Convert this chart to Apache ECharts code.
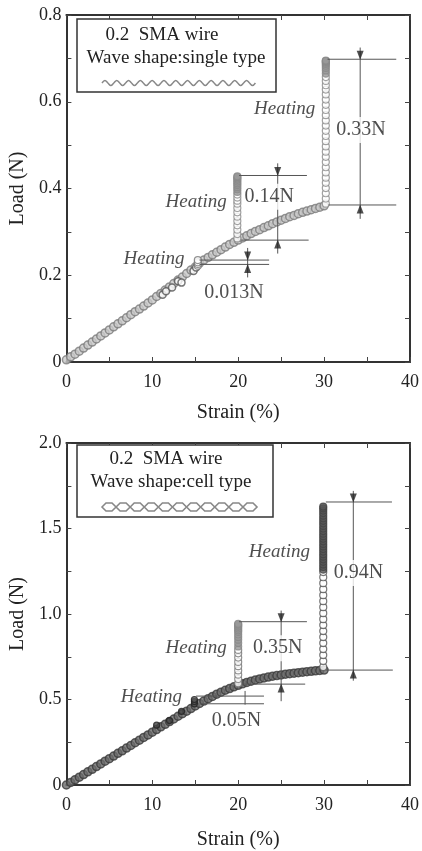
<!DOCTYPE html>
<html>
<head>
<meta charset="utf-8">
<script src="https://cdn.jsdelivr.net/npm/echarts@6/dist/echarts.min.js"></script>
<style>
  html, body { margin: 0; padding: 0; background: #fff; }
  #chart { width: 422px; height: 851px; }
</style>
</head>
<body>
<div id="chart"></div>
<script>
// 曲线横坐标 (%)
const strain = [0, 0.5, 1, 1.5, 2, 2.5, 3, 3.5, 4, 4.5, 5, 5.5, 6, 6.5, 7, 7.5, 8, 8.5, 9, 9.5,
  10, 10.5, 11, 11.5, 12, 12.5, 13, 13.5, 14, 14.5, 15, 15.5, 16, 16.5, 17, 17.5, 18, 18.5, 19, 19.5,
  20, 20.5, 21, 21.5, 22, 22.5, 23, 23.5, 24, 24.5, 25, 25.5, 26, 26.5, 27, 27.5, 28, 28.5, 29, 29.5, 30];

// single type 载荷 (N)
const loadSingle = [0.005, 0.012, 0.018, 0.025, 0.032, 0.039, 0.046, 0.053, 0.060, 0.067, 0.074, 0.081, 0.088, 0.095, 0.102, 0.109, 0.116, 0.122, 0.129, 0.136,
  0.143, 0.151, 0.158, 0.166, 0.173, 0.181, 0.189, 0.196, 0.204, 0.212, 0.219, 0.228, 0.235, 0.241, 0.247, 0.253, 0.259, 0.265, 0.271, 0.276,
  0.281, 0.286, 0.291, 0.296, 0.301, 0.305, 0.310, 0.314, 0.319, 0.323, 0.327, 0.331, 0.335, 0.338, 0.342, 0.345, 0.348, 0.351, 0.354, 0.357, 0.360];

// cell type 载荷 (N)
const loadCell = [0.000, 0.015, 0.030, 0.046, 0.061, 0.077, 0.092, 0.108, 0.123, 0.139, 0.154, 0.169, 0.185, 0.200, 0.216, 0.231, 0.247, 0.262, 0.278, 0.293,
  0.309, 0.324, 0.340, 0.355, 0.371, 0.386, 0.402, 0.417, 0.432, 0.447, 0.462, 0.477, 0.491, 0.505, 0.518, 0.531, 0.543, 0.554, 0.564, 0.574,
  0.583, 0.592, 0.600, 0.607, 0.614, 0.620, 0.626, 0.631, 0.636, 0.640, 0.644, 0.648, 0.651, 0.654, 0.657, 0.660, 0.663, 0.665, 0.668, 0.670, 0.672];

// 加热时的竖直段 [x, y...]
const heatSingle15 = [15.3, 0.222, 0.226, 0.230, 0.235];
const heatSingle20 = [19.9, 0.285, 0.295, 0.305, 0.315, 0.325, 0.335, 0.345, 0.355, 0.365, 0.372, 0.379, 0.386];
const heatSingle20Top = [19.9, 0.392, 0.398, 0.403, 0.408, 0.412, 0.416, 0.420, 0.423, 0.426, 0.428];
const heatSingle30 = [30.2, 0.365, 0.377, 0.389, 0.401, 0.413, 0.425, 0.437, 0.449, 0.461, 0.473, 0.485, 0.497, 0.509,
  0.521, 0.533, 0.545, 0.557, 0.569, 0.581, 0.593, 0.605, 0.617, 0.628, 0.638, 0.648, 0.657];
const heatSingle30Top = [30.2, 0.665, 0.672, 0.678, 0.683, 0.687, 0.690, 0.692, 0.694, 0.695];

const heatCell15 = [14.9, 0.475, 0.488, 0.500];
const heatCell20 = [20.0, 0.595, 0.620, 0.645, 0.670, 0.695, 0.720, 0.745, 0.770, 0.790];
const heatCell20Top = [20.0, 0.810, 0.830, 0.850, 0.865, 0.880, 0.895, 0.905, 0.915, 0.925, 0.932, 0.938, 0.943];
const heatCell30 = [29.9, 0.690, 0.725, 0.760, 0.795, 0.830, 0.865, 0.900, 0.935, 0.970, 1.005, 1.040, 1.075,
  1.110, 1.145, 1.180, 1.215, 1.245];
const heatCell30Top = [29.9, 1.260, 1.275, 1.290, 1.305, 1.320, 1.335, 1.350, 1.365, 1.380, 1.395, 1.410, 1.425,
  1.440, 1.455, 1.470, 1.485, 1.500, 1.515, 1.530, 1.545, 1.560, 1.575, 1.590, 1.605, 1.618, 1.628];

// 曲线旁的散点
const strayStrainSingle = [11.2, 11.6, 12.3, 13.0, 13.4, 14.8, 15.1];
const strayLoadSingle = [0.155, 0.163, 0.172, 0.186, 0.183, 0.210, 0.218];
const strayStrainCell = [10.5, 12.0, 13.4];
const strayLoadCell = [0.35, 0.377, 0.43];

// 尺寸标注线 [x1, y1, x2, y2]
const dimSingle = [
  [30.4, 0.698, 38.4, 0.698], [30.5, 0.362, 38.4, 0.362], [34.2, 0.725, 34.2, 0.33],
  [20.1, 0.430, 28.0, 0.430], [20.3, 0.281, 28.2, 0.281], [24.6, 0.458, 24.6, 0.25],
  [15.5, 0.235, 23.6, 0.235], [15.5, 0.225, 23.6, 0.225], [21.1, 0.263, 21.1, 0.195]
];
const dimCell = [
  [30.2, 1.655, 37.9, 1.655], [30.2, 0.672, 38.0, 0.672], [33.4, 1.72, 33.4, 0.61],
  [20.1, 0.955, 28.0, 0.955], [20.5, 0.590, 27.8, 0.590], [25.0, 1.02, 25.0, 0.49],
  [15.1, 0.520, 23.0, 0.520], [15.5, 0.475, 23.0, 0.475], [20.8, 0.55, 20.8, 0.47]
];
const arrowDownSingle = [[34.2, 0.698], [24.6, 0.430], [21.1, 0.235]];
const arrowUpSingle = [[34.2, 0.362], [24.6, 0.281], [21.1, 0.225]];
const arrowDownCell = [[33.4, 1.655], [25.0, 0.955]];
const arrowUpCell = [[33.4, 0.672], [25.0, 0.590]];

// 数值文字 [文字, x, y]
const valueSingle = [['0.33N', 34.3, 0.535], ['0.14N', 23.6, 0.381], ['0.013N', 19.5, 0.159]];
const valueCell = [['0.94N', 34.0, 1.24], ['0.35N', 24.6, 0.80], ['0.05N', 19.8, 0.377]];
const heatingSingle = [[25.4, 0.583], [15.1, 0.369], [10.2, 0.237]];
const heatingCell = [[24.8, 1.36], [15.1, 0.80], [9.9, 0.515]];

const titleLine1 = '0.2  SMA wire';
const titleSingle = 'Wave shape:single type';
const titleCell = 'Wave shape:cell type';

const FONT = "'Liberation Serif', 'DejaVu Serif', serif";

let myChart = echarts.init(document.getElementById('chart'));

/*把数组拼成点*/
const pairs = function (xs, ys) {
  return xs.map(function (x, i) { return [x, ys[i]]; });
};
const column = function (arr) {
  return arr.slice(1).map(function (y) { return [arr[0], y]; });
};

const markerSeries = function (idx, data, border, fill, size, bw) {
  return {
    type: 'scatter', xAxisIndex: idx, yAxisIndex: idx, data: data,
    symbol: 'circle', symbolSize: size || 7, silent: true, z: 3,
    itemStyle: { color: fill, borderColor: border, borderWidth: bw || 1.2 }
  };
};

const dimSeries = function (idx, segs) {
  return segs.map(function (s) {
    return {
      type: 'line', xAxisIndex: idx, yAxisIndex: idx, silent: true, z: 4,
      data: [[s[0], s[1]], [s[2], s[3]]], symbol: 'none',
      lineStyle: { color: '#555', width: 1 }
    };
  });
};

const arrowSeries = function (idx, data, down) {
  return {
    type: 'scatter', xAxisIndex: idx, yAxisIndex: idx, data: data, silent: true, z: 5,
    symbol: 'triangle', symbolSize: [7, 9], symbolRotate: down ? 180 : 0,
    symbolOffset: [0, down ? -4 : 4],
    itemStyle: { color: '#222' }
  };
};

const textSeries = function (idx, items) {
  return {
    type: 'scatter', xAxisIndex: idx, yAxisIndex: idx, silent: true, z: 6,
    symbolSize: 1, itemStyle: { color: 'rgba(0,0,0,0)' },
    data: items.map(function (t) { return { name: t[0], value: [t[1], t[2]] }; }),
    label: {
      show: true, position: 'inside', formatter: '{b}', color: '#222',
      fontFamily: FONT, fontSize: 20, backgroundColor: '#fff', padding: [3, 1]
    }
  };
};

const heatingSeries = function (idx, items) {
  return {
    type: 'scatter', xAxisIndex: idx, yAxisIndex: idx, silent: true, z: 6,
    symbolSize: 1, itemStyle: { color: 'rgba(0,0,0,0)' },
    data: items,
    label: {
      show: true, position: 'inside', formatter: 'Heating', color: '#222',
      fontFamily: FONT, fontSize: 19, fontStyle: 'italic'
    }
  };
};

const axisBase = function (grid, min, max, interval, pos, labelFn, showLabel) {
  return {
    type: 'value', gridIndex: grid, min: min, max: max, interval: interval, position: pos,
    axisLine: { show: true, onZero: false, lineStyle: { color: '#333', width: 2 } },
    axisTick: { show: true, inside: true, length: 5, lineStyle: { color: '#444', width: 1 } },
    splitLine: { show: false },
    axisLabel: {
      show: showLabel, formatter: labelFn, color: '#222', fontFamily: FONT, fontSize: 18,
      margin: pos === 'bottom' ? 11 : 5, showMinLabel: true, showMaxLabel: true
    }
  };
};

const xFmt = function (v) { return v % 10 === 0 ? String(v) : ''; };
const yFmtSingle = function (v) {
  if (v === 0) return '0';
  return Math.round(v * 10) % 2 === 0 ? v.toFixed(1) : '';
};
const yFmtCell = function (v) {
  if (v === 0) return '0';
  return Math.round(v * 4) % 2 === 0 ? v.toFixed(1) : '';
};

const nameStyle = { color: '#222', fontFamily: FONT, fontSize: 20 };

let xAxes = [
  Object.assign(axisBase(0, 0, 40, 5, 'bottom', xFmt, true),
    { name: 'Strain (%)', nameLocation: 'middle', nameGap: 41, nameTextStyle: nameStyle }),
  axisBase(0, 0, 40, 5, 'top', xFmt, false),
  Object.assign(axisBase(1, 0, 40, 5, 'bottom', xFmt, true),
    { name: 'Strain (%)', nameLocation: 'middle', nameGap: 45, nameTextStyle: nameStyle }),
  axisBase(1, 0, 40, 5, 'top', xFmt, false)
];
let yAxes = [
  Object.assign(axisBase(0, 0, 0.8, 0.1, 'left', yFmtSingle, true),
    { name: 'Load (N)', nameLocation: 'middle', nameGap: 37, nameTextStyle: nameStyle }),
  axisBase(0, 0, 0.8, 0.1, 'right', yFmtSingle, false),
  Object.assign(axisBase(1, 0, 2, 0.25, 'left', yFmtCell, true),
    { name: 'Load (N)', nameLocation: 'middle', nameGap: 37, nameTextStyle: nameStyle }),
  axisBase(1, 0, 2, 0.25, 'right', yFmtCell, false)
];

/*图例框里的波形 (装饰)*/
let wavePts = [];
for (let i = 0; i <= 52; i++) {
  let k = i % 4;
  wavePts.push([102 + i * 2.95, 83 + (k === 1 ? -2.5 : (k === 3 ? 2.5 : 0))]);
}
let diamonds = [];
for (let i = 0; i < 11; i++) {
  let cx = 109 + i * 14.1;
  diamonds.push({
    type: 'polygon', silent: true, z: 11,
    shape: { points: [[cx - 7, 507], [cx - 3, 503], [cx + 3, 503], [cx + 7, 507], [cx + 3, 511], [cx - 3, 511]] },
    style: { fill: 'none', stroke: '#888', lineWidth: 1.6 }
  });
}

let graphics = [
  { type: 'rect', shape: { x: 77, y: 19, width: 199, height: 73 }, style: { fill: '#fff', stroke: '#333', lineWidth: 1.5 }, z: 10 },
  { type: 'text', x: 162, y: 35, z: 11, style: { text: titleLine1, font: "19px 'Liberation Serif', serif", fill: '#222', align: 'center', verticalAlign: 'middle' } },
  { type: 'text', x: 176, y: 58, z: 11, style: { text: titleSingle, font: "19px 'Liberation Serif', serif", fill: '#222', align: 'center', verticalAlign: 'middle' } },
  { type: 'polyline', z: 11, silent: true, shape: { points: wavePts, smooth: 0.4 }, style: { fill: 'none', stroke: '#888', lineWidth: 1.5 } },
  { type: 'rect', shape: { x: 77, y: 445, width: 196, height: 72 }, style: { fill: '#fff', stroke: '#333', lineWidth: 1.5 }, z: 10 },
  { type: 'text', x: 166, y: 459, z: 11, style: { text: titleLine1, font: "19px 'Liberation Serif', serif", fill: '#222', align: 'center', verticalAlign: 'middle' } },
  { type: 'text', x: 171, y: 482, z: 11, style: { text: titleCell, font: "19px 'Liberation Serif', serif", fill: '#222', align: 'center', verticalAlign: 'middle' } }
].concat(diamonds);

let series = [
  markerSeries(0, pairs(strain, loadSingle), '#7a7a7a', '#c8c8c8', 8, 1.5),
  markerSeries(0, pairs(strayStrainSingle, strayLoadSingle), '#555', '#fff', 7, 1.5),
  markerSeries(0, column(heatSingle15), '#777', '#fff'),
  markerSeries(0, column(heatSingle20), '#8a8a8a', '#fff'),
  markerSeries(0, column(heatSingle20Top), '#888', '#999'),
  markerSeries(0, column(heatSingle30), '#8a8a8a', '#fff'),
  markerSeries(0, column(heatSingle30Top), '#888', '#999'),
  markerSeries(2, pairs(strain, loadCell), '#3a3a3a', '#6a6a6a', 8, 1.5),
  markerSeries(2, pairs(strayStrainCell, strayLoadCell), '#222', '#444', 6),
  markerSeries(2, column(heatCell15), '#222', '#555', 6),
  markerSeries(2, column(heatCell20), '#777', '#fff'),
  markerSeries(2, column(heatCell20Top), '#888', '#999'),
  markerSeries(2, column(heatCell30), '#555', '#fff'),
  markerSeries(2, column(heatCell30Top), '#444', '#555'),
  arrowSeries(0, arrowDownSingle, true),
  arrowSeries(0, arrowUpSingle, false),
  arrowSeries(2, arrowDownCell, true),
  arrowSeries(2, arrowUpCell, false),
  textSeries(0, valueSingle),
  textSeries(2, valueCell),
  heatingSeries(0, heatingSingle),
  heatingSeries(2, heatingCell)
].concat(dimSeries(0, dimSingle), dimSeries(2, dimCell));

let option = {
  animation: false,
  backgroundColor: '#fff',
  grid: [
    { left: 65, top: 15, width: 349, height: 347 },
    { left: 64, top: 443, width: 346, height: 345 }
  ],
  xAxis: xAxes,
  yAxis: yAxes,
  graphic: graphics,
  series: series
};

myChart.setOption(option);
</script>
</body>
</html>
